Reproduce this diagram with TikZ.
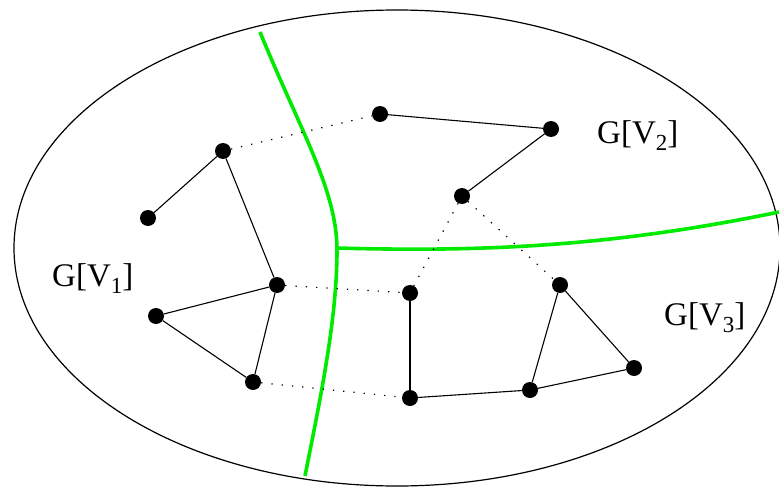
\documentclass[tikz,border=0pt]{standalone}
\usepackage{fontspec}
\setmainfont{Liberation Serif}
\definecolor{cutgreen}{RGB}{0,235,0}
\newcommand{\glabel}[1]{\fontsize{33}{33}\selectfont G[V\raisebox{-7.5pt}{\fontsize{23}{23}\selectfont #1}]}
\begin{document}
\begin{tikzpicture}[x=1pt,y=-1pt,
  vtx/.style={circle,fill=black,inner sep=0pt,minimum size=16pt},
  edge/.style={line width=1.1pt},
  cross/.style={line width=1.2pt,dash pattern=on 1.3pt off 9pt},
  cut/.style={cutgreen,line width=3.6pt},
  lab/.style={anchor=base west,inner sep=0pt}]
\useasboundingbox (0,0) rectangle (779,487);
\clip (0,0) rectangle (779,487);
\draw[line width=1.2pt] (397,248) ellipse [x radius=383, y radius=238];
% green cut lines
\draw[cut] (260,32) .. controls (300,130) and (337,190) .. (337,250)
  .. controls (337,320) and (320,400) .. (305,476);
\draw[cut] (337,248) .. controls (480,252) and (610,247) .. (779,212);
% vertices
\node[vtx] (A) at (223,151) {};
\node[vtx] (B) at (148,218) {};
\node[vtx] (C) at (380,114) {};
\node[vtx] (D) at (551,129) {};
\node[vtx] (E) at (462,196) {};
\node[vtx] (F) at (277,285) {};
\node[vtx] (G) at (156,316) {};
\node[vtx] (H) at (253,382) {};
\node[vtx] (I) at (410,293) {};
\node[vtx] (J) at (410,398) {};
\node[vtx] (K) at (530,390) {};
\node[vtx] (L) at (560,285) {};
\node[vtx] (M) at (634,368) {};
% solid edges
\draw[edge] (A) -- (B);
\draw[edge] (A) -- (F);
\draw[edge] (F) -- (G);
\draw[edge] (G) -- (H);
\draw[edge] (H) -- (F);
\draw[edge] (C) -- (D);
\draw[edge] (D) -- (E);
\draw[edge] (I) -- (J);
\draw[edge] (J) -- (K);
\draw[edge] (K) -- (L);
\draw[edge] (L) -- (M);
\draw[edge] (M) -- (K);
% dotted crossing edges
\draw[cross] (A) -- (C);
\draw[cross] (F) -- (I);
\draw[cross] (H) -- (J);
\draw[cross] (E) -- (I);
\draw[cross] (E) -- (L);
% labels
\node[lab] (l1) at (52,286) {\glabel{1}};
\node[lab] (l2) at (597,143) {\glabel{2}};
\node[lab] (l3) at (664,325) {\glabel{3}};
\end{tikzpicture}
\end{document}
